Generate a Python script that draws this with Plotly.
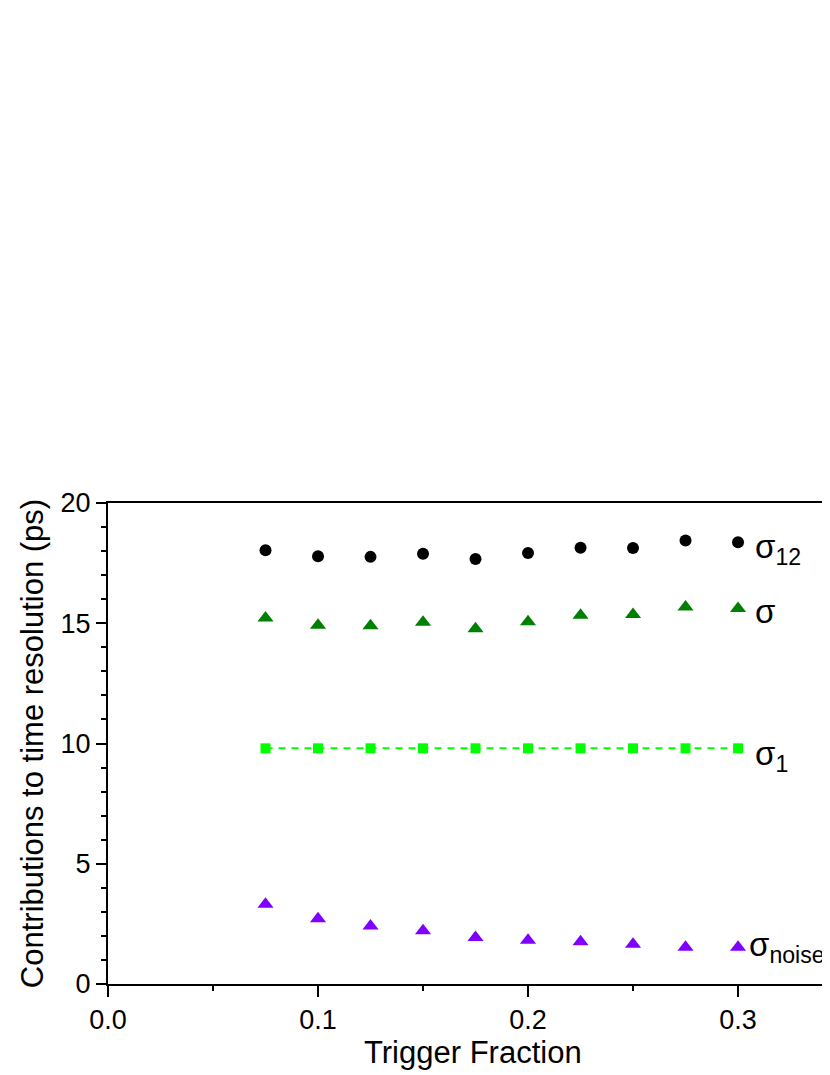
import plotly.graph_objects as go

trigger_fraction = [0.075, 0.1, 0.125, 0.15, 0.175, 0.2, 0.225, 0.25, 0.275, 0.3]
sigma_12 = [18.04, 17.79, 17.76, 17.89, 17.67, 17.92, 18.14, 18.13, 18.44, 18.37]
sigma_total = [15.22, 14.92, 14.90, 15.04, 14.77, 15.06, 15.33, 15.36, 15.68, 15.61]
sigma_1 = [9.8, 9.8, 9.8, 9.8, 9.8, 9.8, 9.8, 9.8, 9.8, 9.8]
sigma_noise = [3.32, 2.71, 2.41, 2.21, 1.93, 1.82, 1.76, 1.65, 1.53, 1.53]

label_texts = ["σ<sub>12</sub>", "σ", "σ<sub>1</sub>", "σ<sub>noise</sub>"]

x_ticks = [0.0, 0.1, 0.2, 0.3]
x_tick_labels = ["0.0", "0.1", "0.2", "0.3"]
y_ticks = [0, 5, 10, 15, 20]

FONT = "Liberation Sans, Arial, sans-serif"

fig = go.Figure()

fig.add_trace(go.Scatter(
    x=trigger_fraction, y=sigma_12, mode="markers",
    marker=dict(symbol="circle", size=12, color="black"),
    name="sigma_12",
))
fig.add_trace(go.Scatter(
    x=trigger_fraction, y=sigma_total, mode="markers",
    marker=dict(symbol="triangle-up", size=14, color="#008000"),
    name="sigma",
))
fig.add_trace(go.Scatter(
    x=trigger_fraction, y=sigma_1, mode="lines+markers",
    line=dict(color="#00FF00", width=2, dash="7px,6px"),
    marker=dict(symbol="square", size=10, color="#00FF00"),
    name="sigma_1",
))
fig.add_trace(go.Scatter(
    x=trigger_fraction, y=sigma_noise, mode="markers",
    marker=dict(symbol="triangle-up", size=14, color="#8000FF"),
    name="sigma_noise",
))

# series labels next to the last point of each series
last_values = [sigma_12[-1], sigma_total[-1], sigma_1[-1], sigma_noise[-1]]
x_shifts = [15, 15, 15, 9]
y_shifts = [-7, -3, -8, 0]
for text, yv, dx, dy in zip(label_texts, last_values, x_shifts, y_shifts):
    fig.add_annotation(
        x=trigger_fraction[-1], y=yv, xref="x", yref="y", text=text, showarrow=False,
        xanchor="left", yanchor="middle", xshift=dx, yshift=dy,
        font=dict(family=FONT, size=33, color="black"),
    )

# x axis title, placed by hand so it stays inside the page
fig.add_annotation(
    x=0.5, y=0, xref="paper", yref="paper", text="Trigger Fraction", showarrow=False,
    xanchor="center", yanchor="top", yshift=-49,
    font=dict(family=FONT, size=31, color="black"),
)

fig.update_xaxes(
    range=[0, 0.3476], tickvals=x_ticks, ticktext=x_tick_labels,
    ticks="outside", ticklen=11, tickwidth=2, tickcolor="black",
    minor=dict(dtick=0.05, tick0=0, ticks="outside", ticklen=5, tickwidth=2, tickcolor="black"),
    showline=True, linewidth=2, linecolor="black", mirror=True,
    showgrid=False, zeroline=False,
    tickfont=dict(family=FONT, size=27, color="black"),
)
fig.update_yaxes(
    range=[0, 20], tickvals=y_ticks,
    ticks="outside", ticklen=10, tickwidth=2, tickcolor="black",
    minor=dict(dtick=1, tick0=0, ticks="outside", ticklen=5, tickwidth=2, tickcolor="black"),
    showline=True, linewidth=2, linecolor="black",
    showgrid=False, zeroline=False,
    tickfont=dict(family=FONT, size=27, color="black"),
    title=dict(text="Contributions to time resolution (ps)", font=dict(family=FONT, size=31, color="black"), standoff=8),
)

fig.update_layout(
    width=830, height=1075,
    margin=dict(l=100, r=0, t=495, b=99),
    plot_bgcolor="white", paper_bgcolor="white",
    showlegend=False,
)

fig.write_html("out.html")
